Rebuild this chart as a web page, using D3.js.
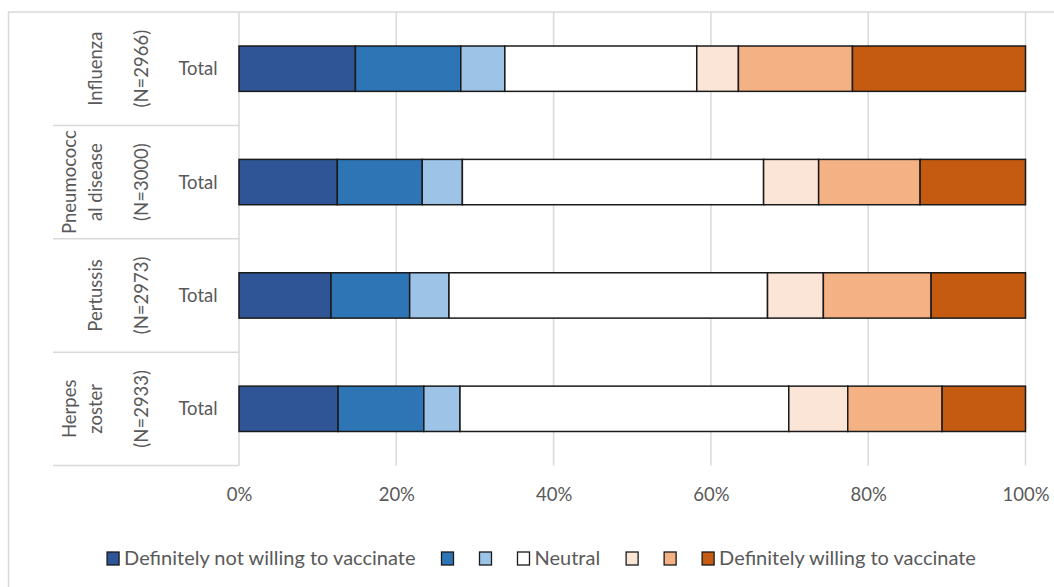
<!DOCTYPE html>
<html>
<head>
<meta charset="utf-8">
<script src="https://cdn.jsdelivr.net/npm/d3@7/dist/d3.min.js"></script>
<style>
  html, body { margin: 0; padding: 0; background: #fff; }
  svg { display: block; }
  text { font-family: Lato, "Open Sans", sans-serif; fill: #595959; }
</style>
</head>
<body>
<svg id="chart" width="1054" height="587"></svg>
<script>
// Vaccination willingness by disease (percent of respondents, 7-point scale)
const diseases = ["Influenza", "Pneumococcal disease", "Pertussis", "Herpes zoster"];
const diseaseLines = [["Influenza"], ["Pneumococc", "al disease"], ["Pertussis"], ["Herpes", "zoster"]];
const sampleSizes = ["(N=2966)", "(N=3000)", "(N=2973)", "(N=2933)"];
const groupLabels = ["Total", "Total", "Total", "Total"];

const seriesNames = [
  "Definitely not willing to vaccinate", "", "", "Neutral", "", "", "Definitely willing to vaccinate"
];
const level1 = [14.8, 12.5, 11.7, 12.6];
const level2 = [13.4, 10.8, 10.0, 10.9];
const level3 = [5.6, 5.1, 5.0, 4.6];
const level4 = [24.4, 38.3, 40.5, 41.8];
const level5 = [5.3, 7.0, 7.1, 7.5];
const level6 = [14.5, 12.9, 13.7, 12.0];
const level7 = [22.0, 13.4, 12.0, 10.6];
const seriesColors = ["#2F5597", "#2E75B6", "#9DC3E6", "#FFFFFF", "#FBE5D6", "#F4B183", "#C55A11"];
const xTicks = [0, 20, 40, 60, 80, 100];

const levels = [level1, level2, level3, level4, level5, level6, level7];
const keys = levels.map((_, i) => "s" + i);
const rows = diseases.map((d, r) => {
  const row = { disease: d };
  levels.forEach((arr, i) => { row[keys[i]] = arr[r]; });
  return row;
});

const svg = d3.select("#chart");
const plot = { left: 239, right: 1025.5, top: 12, bottom: 465.5 };
const gridColor = "#D9D9D9";

// chart frame
svg.append("path")
  .attr("d", `M8.5,587 V12 H1054`)
  .attr("fill", "none").attr("stroke", gridColor).attr("stroke-width", 1.5);

const x = d3.scaleLinear().domain([0, 100]).range([plot.left, plot.right]);
const y = d3.scaleBand().domain(diseases).range([plot.top, plot.bottom])
  .paddingInner(0.6).paddingOuter(0.3);

// vertical gridlines
svg.append("g").selectAll("line").data(xTicks.slice(1)).join("line")
  .attr("x1", d => x(d)).attr("x2", d => x(d))
  .attr("y1", plot.top).attr("y2", plot.bottom)
  .attr("stroke", gridColor).attr("stroke-width", 1.5);

// category axis line and group separators
svg.append("line")
  .attr("x1", plot.left).attr("x2", plot.left)
  .attr("y1", plot.top).attr("y2", plot.bottom)
  .attr("stroke", gridColor).attr("stroke-width", 1.5);
const step = y.step();
const boundaries = diseases.map((d, i) => y(d) - y.paddingOuter() * step + step);
svg.append("g").selectAll("line").data(boundaries).join("line")
  .attr("x1", 53).attr("x2", plot.left)
  .attr("y1", d => d).attr("y2", d => d)
  .attr("stroke", gridColor).attr("stroke-width", 1.5);

// stacked bars
const stacked = d3.stack().keys(keys)(rows);
svg.append("g").selectAll("g").data(stacked).join("g")
  .attr("fill", (d, i) => seriesColors[i])
  .selectAll("rect").data(d => d).join("rect")
  .attr("x", d => x(d[0]))
  .attr("width", d => x(d[1]) - x(d[0]))
  .attr("y", d => y(d.data.disease))
  .attr("height", y.bandwidth())
  .attr("stroke", "#1a1a1a").attr("stroke-width", 1.5);

// value axis
const xAxis = d3.axisBottom(x).tickValues(xTicks).tickFormat(d => d + "%").tickSize(0);
const ax = svg.append("g").attr("transform", `translate(0,${plot.bottom})`).call(xAxis);
ax.select(".domain").remove();
ax.selectAll("text")
  .attr("y", 35).attr("dy", 0)
  .style("font-size", "18.5px").style("font-family", "Lato, 'Open Sans', sans-serif")
  .attr("fill", "#595959");

// multi-level category labels
const labels = svg.append("g").style("font-size", "18.5px");
diseases.forEach((d, i) => {
  const cy = y(d) + y.bandwidth() / 2;
  labels.append("text").attr("x", 198).attr("y", cy).attr("dy", "0.36em")
    .attr("text-anchor", "middle").text(groupLabels[i]);
  labels.append("text").attr("transform", `translate(148,${cy}) rotate(-90)`)
    .attr("text-anchor", "middle").text(sampleSizes[i]);
  const lines = diseaseLines[i];
  const base = lines.length === 1 ? [102] : [76, 102];
  lines.forEach((ln, j) => {
    labels.append("text").attr("transform", `translate(${base[j]},${cy}) rotate(-90)`)
      .attr("text-anchor", "middle").text(ln);
  });
});

// legend
const legend = svg.append("g").style("font-size", "20px");
let cursor = 0;
seriesNames.forEach((name, i) => {
  const g = legend.append("g");
  g.append("rect").attr("x", 0).attr("y", -13).attr("width", 12).attr("height", 13)
    .attr("fill", seriesColors[i]).attr("stroke", "#1a1a1a").attr("stroke-width", 1.3);
  let w = 12;
  if (name) {
    const t = g.append("text").attr("x", 17).attr("y", 0).text(name);
    w = 17 + t.node().getComputedTextLength();
  }
  g.attr("transform", `translate(${cursor},565)`);
  cursor += w + 26;
});
const legendWidth = cursor - 26;
legend.attr("transform", `translate(${541.5 - legendWidth / 2},0)`);
</script>
</body>
</html>
